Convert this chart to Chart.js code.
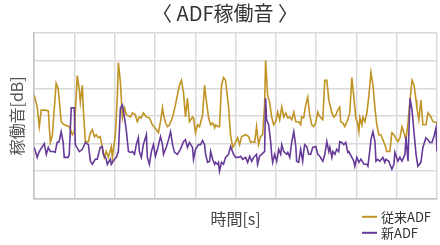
<!DOCTYPE html>
<html><head><meta charset="utf-8">
<script src="https://cdn.jsdelivr.net/npm/chart.js@4"></script>
<style>html,body{margin:0;padding:0;background:#fff;}canvas{display:block;}</style>
</head><body>
<canvas id="c" width="440" height="245"></canvas>
<script>
const FONT = '"Noto Sans CJK JP","Noto Sans",sans-serif';
const titleText = '\u3000〈 ADF稼働音 〉';
const xTitle = '時間[s]';
const yTitle = '稼働音[dB]';
const seriesNames = ['従来ADF', '新ADF'];

// 従来ADF
const legacyT = [
0,1.5,2.5,3.5,5.5,7,8,9,10.9,11.9,
13.4,14.9,17.4,18.4,18.9,19.9,21.4,22.4,22.9,23.9,
24.4,25.4,26.9,27.9,28.9,29.9,30.8,31.8,32.8,34.8,
35.8,36.8,38.3,38.8,40.3,41.3,41.8,42.8,43.8,44.8,
45.8,47.8,48.8,50.2,51.2,52.2,53.2,54.2,55.7,57.2,
58.7,60.7,61.7,62.7,63.7,64.2,65.2,66.2,67.2,68.7,
70.1,72.1,73.1,74.1,75.1,76.1,77.1,78.6,79.1,80.1,
81.1,82.1,83.6,84.6,85.1,86.6,87.6,88.6,89.6,90.0,
91.5,92.0,93.0,94.0,95.0,96.5,97.5,98.5,99.5,101.0,
102.0,103.0,105.0,106.5,107.5,108.5,109.5,110.4,111.4,112.4,
113.4,114.4,114.9,115.4,115.9,116.9,117.9,118.9,119.9,120.9,
121.9,122.9,123.9,124.9,125.9,126.9,127.9,128.9,129.9,131.3,
132.3,132.8,133.8,134.8,135.8,136.8,137.8,138.8,139.8,140.8,
141.3,142.3,143.3,144.3,145.3,146.3,147.8,148.8,149.8,150.7,
151.7,152.2,153.2,154.2,155.7,156.7,157.7,158.7,159.7,160.7,
161.2,161.7,162.7,163.2,164.2,165.2,166.2,167.2,168.2,169.2,
170.1,171.1,172.1,173.1,174.1,175.1,176.6,177.6,178.6,179.1,
180.6,181.6,182.6,183.6,184.6,185.6,186.6,187.6,188.6,189.6,
190.0,191.0,192.0,193.0,194.5,195.5,197.0,198.0,200.0];
const legacyDb = [
67.5,63.2,56.1,62.1,62.1,61.8,50.4,52.9,71.8,70.0,
57.9,56.8,56.1,54.3,53.2,54.3,74.6,69.3,65.0,71.1,
62.1,50.7,50.7,53.9,55.0,52.5,53.2,52.1,52.5,45.0,
47.1,45.0,48.9,45.0,53.2,67.5,79.3,72.1,59.3,62.9,
60.4,59.6,61.1,60.4,57.9,59.6,59.3,61.1,59.6,59.3,
56.8,55.0,53.9,57.9,62.9,60.4,57.5,56.1,56.8,59.6,
63.9,71.1,72.9,68.6,59.6,66.4,57.9,59.6,59.3,53.9,
56.8,56.1,60.4,71.1,67.5,59.3,56.8,57.5,55.7,56.8,
56.1,56.1,71.1,73.9,72.9,63.2,53.2,48.6,49.6,52.1,
49.6,52.5,53.2,52.5,50.4,50.7,50.4,56.1,49.6,52.5,
53.2,63.9,80.0,73.6,67.5,65.0,59.6,56.8,57.9,61.4,
58.6,63.2,59.6,61.1,59.3,59.6,58.6,61.4,57.9,57.9,
56.8,59.6,59.3,63.9,66.8,60.4,56.8,56.1,57.5,61.4,
60.4,59.3,58.6,72.9,72.9,65.7,61.1,59.6,60.4,62.1,
63.2,57.9,57.5,56.1,58.6,61.1,73.9,66.8,59.3,56.8,
54.3,59.3,56.8,59.6,57.9,61.1,67.5,75.7,71.1,62.9,
56.8,53.2,53.2,51.4,49.6,47.1,47.1,53.9,53.2,52.5,
50.7,52.1,56.1,53.9,51.4,57.5,65.7,72.9,71.1,65.7,
62.9,58.6,65.7,56.8,56.8,61.1,59.6,57.9,57.5];

// 新ADF
const newT = [
0,1.5,2.5,5,6,7,8,9.5,10.4,11.4,
12.4,13.4,14.4,14.9,16.9,17.4,18.4,19.9,20.4,22.4,
23.9,25.4,26.9,27.9,28.9,30.3,31.3,32.8,33.8,34.3,
35.8,36.3,37.8,38.3,39.8,40.8,41.8,42.8,43.8,44.8,
45.8,46.8,47.8,48.8,49.8,50.7,51.7,52.2,53.2,54.2,
55.7,56.2,57.2,58.2,59.2,60.2,61.2,62.7,63.7,64.2,
65.7,66.7,67.7,68.7,69.7,71.1,72.6,74.1,75.1,76.1,
77.1,78.6,79.1,80.1,81.6,82.6,83.6,84.6,85.1,86.1,
87.1,87.6,88.6,89.6,90.0,91.0,91.5,92.0,93.0,94.0,
95.0,96.5,97.5,99.0,100.0,101.5,102.5,103.5,105.0,106.0,
107.0,108.0,109.0,110.4,110.9,111.9,112.9,113.9,114.4,114.9,
115.4,116.4,117.4,117.9,118.4,119.4,120.4,121.4,122.4,122.9,
123.9,125.4,125.9,126.9,127.9,128.9,129.9,130.3,131.3,132.3,
133.3,133.8,134.3,135.3,136.3,137.3,138.3,139.8,140.8,141.8,
143.3,144.3,145.3,146.3,146.8,147.8,148.3,149.3,150.2,151.2,
151.7,152.7,153.7,154.7,155.7,156.2,157.7,158.7,159.2,160.2,
161.2,162.2,163.2,163.7,165.2,165.7,166.7,167.2,168.2,169.2,
169.7,170.6,171.6,173.1,174.1,174.6,176.1,176.6,177.6,178.6,
179.1,180.6,181.6,182.6,184.1,184.6,185.6,186.6,187.6,188.6,
189.6,190.5,192.0,193.0,194.5,195.5,196.5,197.5,198.5,199.5,
200.0];
const newDb = [
48.6,45.0,47.1,50.0,46.1,48.6,47.1,47.1,46.8,50.4,
50.7,54.3,50.4,45.0,45.0,46.1,62.9,62.9,49.6,47.1,
47.9,50.4,49.6,43.6,42.5,44.3,44.3,48.6,48.9,46.1,
44.3,42.5,44.3,42.5,44.3,45.0,47.1,62.9,63.9,59.6,
54.3,47.1,46.8,47.1,46.1,49.6,52.1,47.1,45.0,49.6,
53.2,45.0,42.5,47.1,49.6,45.4,47.9,52.5,49.6,46.1,
48.9,51.4,54.3,49.6,46.8,46.1,47.9,50.7,51.4,48.6,
50.4,48.6,44.3,47.9,49.6,49.6,51.1,49.6,46.1,43.2,
43.6,47.1,44.3,42.5,43.2,42.5,43.2,40.0,43.2,42.5,
45.0,46.1,48.9,46.1,45.0,45.0,45.4,44.3,45.0,43.2,
45.4,43.6,45.0,46.1,42.5,45.4,46.1,46.8,47.1,66.4,
58.6,56.8,50.7,46.1,43.2,46.1,43.6,47.9,46.1,49.6,
47.1,46.1,46.8,45.0,50.7,54.3,48.9,43.6,43.2,47.9,
43.6,47.1,49.6,48.9,46.1,46.1,48.6,48.9,46.1,45.4,
43.6,46.1,50.7,47.1,48.6,45.0,47.1,46.1,47.9,47.1,
50.7,50.4,49.6,50.4,46.8,47.1,45.0,43.6,41.8,45.0,
43.2,44.3,43.2,42.5,42.5,41.8,47.9,51.4,54.3,50.7,
43.6,44.3,43.6,45.0,43.2,44.3,43.6,42.5,40.7,42.5,
46.8,43.6,45.0,43.6,46.1,52.5,43.6,66.4,62.1,53.9,
46.1,41.8,43.2,48.6,52.1,51.4,50.4,50.4,52.5,55.7,
47.1];

const COLORS = ['#c09424', '#663a99'];

function pts(ts, vs) {
  const n = Math.min(ts.length, vs.length);
  const out = [];
  for (let i = 0; i < n; i++) out.push({x: ts[i], y: vs[i]});
  return out;
}

const legendPlugin = {
  id: 'sideLegend',
  afterDraw(chart) {
    const ctx = chart.ctx, ca = chart.chartArea;
    const ds = chart.data.datasets;
    ctx.save();
    ctx.font = '13px ' + FONT;
    ctx.textBaseline = 'middle';
    ctx.textAlign = 'left';
    [0, 1].forEach((k, row) => {
      const d = ds[k];
      const y = ca.bottom + 18 + row * 16;
      const x0 = ca.right - 75;
      ctx.strokeStyle = d.borderColor;
      ctx.lineWidth = 2;
      ctx.beginPath();
      ctx.moveTo(x0, y);
      ctx.lineTo(x0 + 15, y);
      ctx.stroke();
      ctx.fillStyle = '#333';
      ctx.fillText(d.label, x0 + 19, y);
    });
    ctx.restore();
  }
};

const gridCfg = {color: '#dadada', lineWidth: 1.5, drawTicks: false};
const borderCfg = {color: '#c4c4c4', width: 1.5};

new Chart(document.getElementById('c'), {
  type: 'line',
  data: {
    datasets: [
      {label: seriesNames[0], data: pts(legacyT, legacyDb), borderColor: COLORS[0], backgroundColor: COLORS[0],
       borderWidth: 1.6, pointRadius: 0, tension: 0, order: 2},
      {label: seriesNames[1], data: pts(newT, newDb), borderColor: COLORS[1], backgroundColor: COLORS[1],
       borderWidth: 1.6, pointRadius: 0, tension: 0, order: 1}
    ]
  },
  options: {
    responsive: false,
    animation: false,
    devicePixelRatio: 1,
    layout: {padding: {left: 3, right: 3, top: 0, bottom: 16}},
    plugins: {
      legend: {display: false},
      tooltip: {enabled: false},
      title: {display: true, text: titleText, color: '#333',
              font: {family: FONT, size: 20, weight: 'normal'}, padding: {top: 1, bottom: 8}}
    },
    scales: {
      x: {type: 'linear', min: 0, max: 200,
          ticks: {display: false, stepSize: 20},
          grid: gridCfg, border: borderCfg,
          title: {display: true, text: xTitle, color: '#444',
                  font: {family: FONT, size: 16}, padding: {top: 11, bottom: 0}}},
      y: {type: 'linear', min: 30, max: 90,
          ticks: {display: false, stepSize: 10},
          grid: gridCfg, border: borderCfg,
          title: {display: true, text: yTitle, color: '#555',
                  font: {family: FONT, size: 16}, padding: {top: 4, bottom: 8}}}
    }
  },
  plugins: [legendPlugin]
});
</script>
</body></html>
